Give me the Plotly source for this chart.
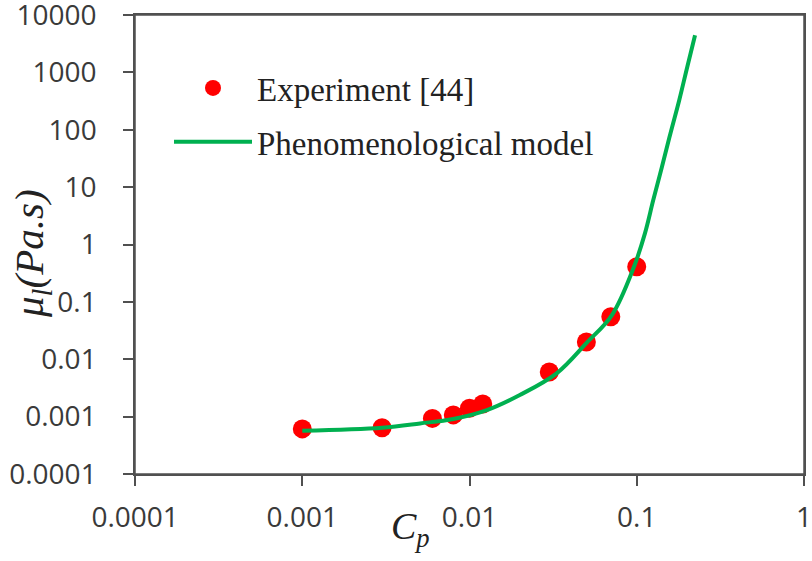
import plotly.graph_objects as go

exp_cp = [0.001, 0.003, 0.006, 0.008, 0.01, 0.012, 0.03, 0.05, 0.07, 0.1]
exp_mu = [0.00061, 0.00064, 0.00093, 0.00107, 0.0014, 0.00166, 0.006, 0.02, 0.055, 0.41]

# Phenomenological model curve
model_cp = [0.001, 0.003, 0.00506, 0.008, 0.0127, 0.020, 0.0332, 0.050, 0.0711,
            0.0963, 0.1120, 0.1256, 0.1416, 0.1591, 0.1796, 0.2006, 0.2233]
model_mu = [0.000567, 0.00064, 0.00076, 0.00091, 0.0013, 0.00238, 0.00567, 0.0191, 0.0589,
            0.409, 1.561, 5.94, 22.6, 86.2, 328, 1247, 4446]

x_tick_vals = [0.0001, 0.001, 0.01, 0.1, 1]
x_tick_text = ["0.0001", "0.001", "0.01", "0.1", "1"]
y_tick_vals = [0.0001, 0.001, 0.01, 0.1, 1, 10, 100, 1000, 10000]
y_tick_text = ["0.0001", "0.001", "0.01", "0.1", "1", "10", "100", "1000", "10000"]

W, H = 812, 561
L, R, T, B = 135, 8, 15, 87
PW, PH = W - L - R, H - T - B

def px2paper_x(px):
    return (px - L) / PW

def px2paper_y(py):
    return (H - B - py) / PH

fig = go.Figure()
fig.add_trace(go.Scatter(
    x=exp_cp, y=exp_mu, mode="markers", name="Experiment [44]",
    marker=dict(color="#FF0000", size=19, line=dict(width=0)),
    legendgroup="a",
))
fig.add_trace(go.Scatter(
    x=model_cp, y=model_mu, mode="lines", name="Phenomenological model",
    line=dict(color="#00B050", width=4, shape="spline", smoothing=1.0),
    legendgroup="b",
))

axis_common = dict(
    showline=True, linecolor="#505050", linewidth=1.5, mirror=True,
    ticks="outside", ticklen=10, tickwidth=1.5, tickcolor="#505050",
    showgrid=False, zeroline=False, ticklabeloverflow="allow", automargin=False,
    tickfont=dict(family="Open Sans", size=28, color="#3a3a3a"),
)

fig.update_layout(
    width=W, height=H,
    margin=dict(l=L, r=R, t=T, b=B, autoexpand=False),
    paper_bgcolor="white", plot_bgcolor="white",
    xaxis=dict(type="log", range=[-4.0005, 0.0005], tickvals=x_tick_vals, ticktext=x_tick_text,
               ticklabelstandoff=8, **axis_common),
    yaxis=dict(type="log", range=[-4.001, 4.001], tickvals=y_tick_vals, ticktext=y_tick_text,
               ticklabelstandoff=21, **axis_common),
    showlegend=True,
    legend=dict(
        x=px2paper_x(169), y=px2paper_y(60), xanchor="left", yanchor="top",
        bgcolor="rgba(0,0,0,0)", borderwidth=0,
        font=dict(family="Liberation Serif", size=33, color="#222222"),
        itemwidth=78, tracegroupgap=8, traceorder="grouped",
    ),
    shapes=[
        dict(type="rect", xref="paper", yref="paper", x0=0, x1=1, y0=0, y1=1,
             line=dict(color="#505050", width=1.5), fillcolor="rgba(0,0,0,0)", layer="above"),
    ],
    annotations=[
        dict(text="<i>C</i><sub><i>p</i></sub>", xref="paper", yref="paper",
             x=px2paper_x(410), y=px2paper_y(529), xanchor="center", yanchor="middle",
             showarrow=False, font=dict(family="Liberation Serif", size=38, color="#222222")),
        dict(text="<i>μ</i><sub><i>l</i></sub><i>(Pa.s)</i>", xref="paper", yref="paper",
             x=px2paper_x(32), y=px2paper_y(254), xanchor="center", yanchor="middle",
             textangle=-90, showarrow=False,
             font=dict(family="Liberation Serif", size=41, color="#222222")),
    ],
)

fig.write_html("out.html")
